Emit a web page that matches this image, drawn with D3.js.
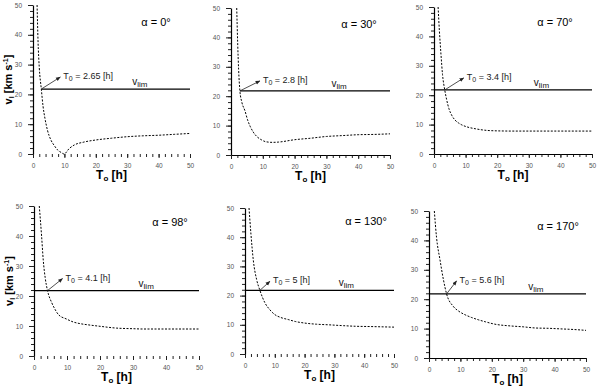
<!DOCTYPE html>
<html>
<head>
<meta charset="utf-8">
<script src="https://cdn.jsdelivr.net/npm/d3@7"></script>
<style>
  body { margin: 0; background: #fff; }
  svg { display: block; font-family: "Liberation Sans", Arial, sans-serif; }
</style>
</head>
<body>
<svg id="chart" width="600" height="386"></svg>
<script>
// values
const alphas = [0, 30, 70, 98, 130, 170];
const crossT = [2.65, 2.8, 3.4, 4.1, 5, 5.6];
const vLim = 21.8;
const xTicks = [0, 10, 20, 30, 40, 50];
const yTicks = [0, 10, 20, 30, 40, 50];

const t_a0 = [1.3, 1.6, 2.0, 2.65, 3.2, 3.8, 4.6, 5.7, 6.8, 7.8, 9.0, 9.9, 11.5, 13.1, 16.2, 20, 25, 30, 35, 40, 45, 50];
const v_a0 = [50, 38, 29, 21.8, 16, 12, 8.0, 4.7, 2.8, 1.4, 0.5, 0, 1.8, 3.0, 4.0, 4.7, 5.3, 5.8, 6.1, 6.3, 6.6, 6.9];

const t_a30 = [1.8, 2.1, 2.4, 2.8, 3.4, 4.4, 5.2, 6.0, 7.0, 8.1, 9.5, 11, 13, 15, 20, 25, 30, 35, 40, 45, 50];
const v_a30 = [50, 38, 29, 21.8, 18, 15, 12, 9.8, 7.8, 6.3, 5.2, 4.5, 4.3, 4.4, 5.2, 5.7, 6.3, 6.6, 6.9, 7.0, 7.2];

const t_a70 = [1.3, 1.7, 2.2, 2.7, 3.4, 4.0, 4.7, 5.6, 6.6, 7.7, 8.8, 10.5, 13, 16, 19, 25, 30, 40, 50];
const v_a70 = [50, 42, 34, 27, 21.8, 18.5, 15.5, 13.2, 11.6, 10.6, 9.9, 9.2, 8.6, 8.1, 7.9, 7.8, 7.8, 7.8, 7.8];

const t_a98 = [1.6, 2.3, 2.8, 3.4, 4.1, 5.4, 6.4, 7.4, 9.9, 12, 13.9, 17, 20, 25, 30, 33, 40, 50];
const v_a98 = [50, 40, 32, 26, 21.8, 17.7, 15.5, 13.8, 12.3, 11.3, 10.8, 10.3, 9.9, 9.3, 9.1, 9.0, 9.0, 9.0];

const t_a130 = [1.35, 2.0, 2.8, 3.9, 5.0, 6.7, 8.3, 10, 12, 14.5, 17, 20, 24, 28, 33, 37, 42, 50];
const v_a130 = [50, 41, 32, 25.5, 21.8, 17.5, 15.2, 13.5, 12.5, 11.8, 11.1, 10.6, 10.2, 10.0, 9.7, 9.5, 9.4, 9.2];

const t_a170 = [1.7, 2.4, 3.5, 4.6, 5.6, 7.7, 9.5, 11.5, 13.5, 15.7, 18, 21, 26, 30, 34, 38, 42, 46, 50];
const v_a170 = [50, 41, 33.4, 26.6, 21.8, 17.6, 15.9, 14.7, 13.8, 13.0, 12.3, 11.5, 10.9, 10.6, 10.2, 10.1, 9.9, 9.7, 9.4];

const seriesT = [t_a0, t_a30, t_a70, t_a98, t_a130, t_a170];
const seriesV = [v_a0, v_a30, v_a70, v_a98, v_a130, v_a170];

// panel frames and label placement (layout only)
const frames = [
  { l: 33,  r: 190, t: 5,   b: 154, xLine: false, lineFrom: 2.65, arrow: [19, -12], alpha: [156, 22], yTitle: true },
  { l: 231, r: 390, t: 8,   b: 155, xLine: true,  lineFrom: 2.8,  arrow: [20, -10], alpha: [359, 24], yTitle: false },
  { l: 434, r: 592, t: 7,   b: 154, xLine: true,  lineFrom: 0,    arrow: [19, -12], alpha: [555, 22], yTitle: false },
  { l: 34,  r: 199, t: 206, b: 356, xLine: false, lineFrom: 0,    arrow: [15, -12], alpha: [170, 222], yTitle: true },
  { l: 245, r: 394, t: 208, b: 354, xLine: false, lineFrom: 0,    arrow: [10, -9],  alpha: [366, 221], yTitle: false },
  { l: 429, r: 586, t: 211, b: 358, xLine: true,  lineFrom: 0,    arrow: [10, -13], alpha: [558, 226], yTitle: false }
];

const svg = d3.select("#chart");

svg.append("defs").append("marker")
  .attr("id", "arr")
  .attr("viewBox", "0 0 10 10")
  .attr("refX", 9).attr("refY", 5)
  .attr("markerWidth", 6).attr("markerHeight", 6)
  .attr("orient", "auto")
  .append("path")
  .attr("d", "M0,1 L10,5 L0,9 Z")
  .attr("fill", "#222");

frames.forEach(function (f, i) {
  const x = d3.scaleLinear().domain([0, 50]).range([f.l, f.r]);
  const y = d3.scaleLinear().domain([0, 50]).range([f.b, f.t]);
  const g = svg.append("g");

  // minor ticks
  g.append("g")
    .attr("transform", `translate(${f.l},0)`)
    .call(d3.axisLeft(y).tickValues(d3.range(0, 51, 2)).tickSize(3).tickFormat(""))
    .call(a => a.select(".domain").remove());
  g.append("g")
    .attr("transform", `translate(0,${f.b})`)
    .call(d3.axisBottom(x).tickValues(d3.range(0, 51, 2)).tickSize(3).tickFormat(""))
    .call(a => a.select(".domain").remove());

  // major ticks and labels
  const ya = g.append("g")
    .attr("transform", `translate(${f.l},0)`)
    .call(d3.axisLeft(y).tickValues(yTicks).tickSize(5).tickPadding(6).tickSizeOuter(0));
  ya.select(".domain").attr("stroke-width", 1.2);

  const xa = g.append("g")
    .attr("transform", `translate(0,${f.b})`)
    .call(d3.axisBottom(x).tickValues(xTicks).tickSize(4).tickPadding(5).tickSizeOuter(0));
  if (!f.xLine) xa.select(".domain").remove();

  g.selectAll(".tick text")
    .attr("font-size", 6.5)
    .attr("fill", "#555")
    .attr("font-family", "Liberation Sans, Arial, sans-serif");
  g.selectAll(".tick line").attr("stroke", "#222");

  // v_lim line
  g.append("line")
    .attr("x1", x(f.lineFrom)).attr("x2", x(50))
    .attr("y1", y(vLim)).attr("y2", y(vLim))
    .attr("stroke", "#000").attr("stroke-width", 1.2);

  const vl = g.append("text")
    .attr("x", x(34)).attr("y", y(vLim) - 4)
    .attr("text-anchor", "middle")
    .attr("font-size", 10).attr("fill", "#111");
  vl.append("tspan").text("v");
  vl.append("tspan").attr("font-size", 8).attr("dy", 2).text("lim");

  // dashed curve
  const pts = seriesT[i].map((t, k) => [t, seriesV[i][k]]);
  g.append("path")
    .datum(pts)
    .attr("fill", "none")
    .attr("stroke", "#000")
    .attr("stroke-width", 1)
    .attr("stroke-dasharray", "2,1.5")
    .attr("d", d3.line().x(d => x(d[0])).y(d => y(d[1])).curve(d3.curveMonotoneX));

  // arrow + T0 label
  const x0 = x(crossT[i]), y0 = y(vLim);
  const x1 = x0 + f.arrow[0], y1 = y0 + f.arrow[1];
  g.append("line")
    .attr("x1", x0).attr("y1", y0).attr("x2", x1).attr("y2", y1)
    .attr("stroke", "#222").attr("stroke-width", 0.8)
    .attr("marker-end", "url(#arr)");
  const tl = g.append("text")
    .attr("x", x1 + 3).attr("y", y1 + 2)
    .attr("font-size", 9).attr("fill", "#222");
  tl.append("tspan").text("T");
  tl.append("tspan").attr("font-size", 7).attr("dy", 2).text("0");
  tl.append("tspan").attr("dy", -2).text(" = " + crossT[i] + " [h]");

  // alpha title
  g.append("text")
    .attr("x", f.alpha[0]).attr("y", f.alpha[1] + 4)
    .attr("text-anchor", "middle")
    .attr("font-size", 11).attr("fill", "#000")
    .text("α = " + alphas[i] + "°");

  // x title
  const xt = g.append("text")
    .attr("x", (f.l + f.r) / 2).attr("y", f.b + 25)
    .attr("text-anchor", "middle")
    .attr("font-size", 12).attr("font-weight", "bold");
  xt.append("tspan").text("T");
  xt.append("tspan").attr("font-size", 8).attr("dy", 2).text("o");
  xt.append("tspan").attr("dy", -2).text(" [h]");

  // y title
  if (f.yTitle) {
    const cy = (f.t + f.b) / 2;
    const yt = g.append("text")
      .attr("transform", `translate(${f.l - 21},${cy}) rotate(-90)`)
      .attr("text-anchor", "middle")
      .attr("font-size", 11).attr("font-weight", "bold");
    yt.append("tspan").text("v");
    yt.append("tspan").attr("font-size", 7).attr("dy", 2).text("l");
    yt.append("tspan").attr("dy", -2).text(" [km s");
    yt.append("tspan").attr("font-size", 7).attr("dy", -4).text("-1");
    yt.append("tspan").attr("dy", 4).text("]");
  }
});
</script>
</body>
</html>
